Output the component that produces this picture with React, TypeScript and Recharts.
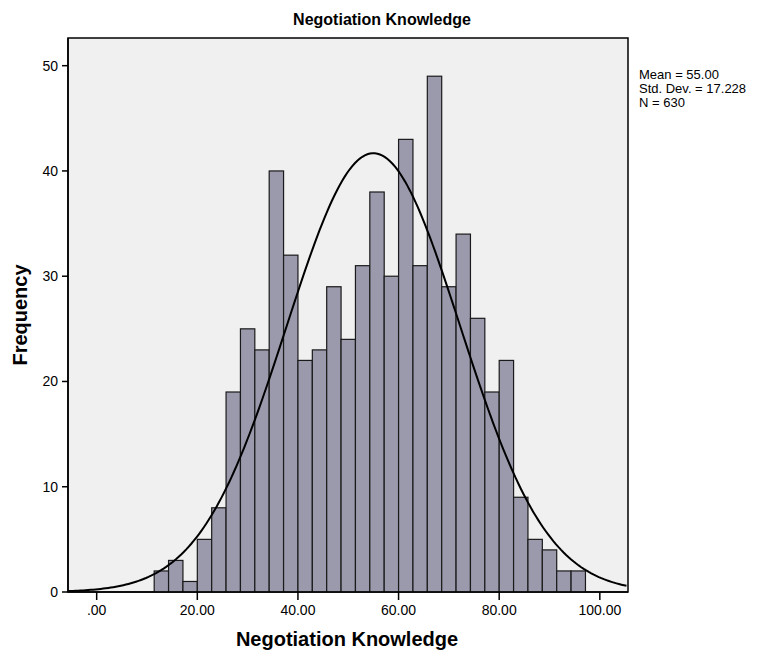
import React from "react";
import {
  ComposedChart,
  Bar,
  Line,
  XAxis,
  YAxis,
  CartesianGrid,
  ReferenceArea,
} from "recharts";

// ---- data ----
const binStart = 11.43; // lower edge of first bar
const binWidth = 100 / 35; // width of each bar in score units
const counts = [
  2, 3, 1, 5, 8, 19, 25, 23, 40, 32, 22, 23, 29, 24, 31, 38, 30, 43, 31, 49,
  29, 34, 26, 19, 22, 9, 5, 4, 2, 2,
];
const xTicks = [0, 20, 40, 60, 80, 100];
const yTicks = [0, 10, 20, 30, 40, 50];
const stats = { mean: 55.0, sd: 17.228, n: 630 };
const legendLines = ["Mean = 55.00", "Std. Dev. = 17.228", "N = 630"];
const titleText = "Negotiation Knowledge";
const xLabel = "Negotiation Knowledge";
const yLabel = "Frequency";

const X_MIN = -5.7;
const X_MAX = 105.6;
const Y_MAX = 52.63;

const barData = counts.map((c, i) => ({
  x: binStart + binWidth * (i + 0.5),
  count: c,
}));

// fitted normal curve, from the reported Mean / Std. Dev. / N
const curveData: { x: number; y: number }[] = [];
for (let x = X_MIN; x <= X_MAX + 1e-9; x += 0.5) {
  const z = (x - stats.mean) / stats.sd;
  curveData.push({
    x,
    y:
      ((stats.n * binWidth) / (stats.sd * Math.sqrt(2 * Math.PI))) *
      Math.exp(-0.5 * z * z),
  });
}

const W = 755;
const H = 649;
const margin = { top: 30, right: 135, bottom: 35, left: 0 };
const Y_AXIS_W = 60;
const plotW = W - margin.left - margin.right - Y_AXIS_W;
const barPx = (binWidth * plotW) / (X_MAX - X_MIN);

const FONT = "'Liberation Sans', Arial, Helvetica, sans-serif";

const fmtX = (v: number) => (v === 0 ? ".00" : v.toFixed(2));

const HistBar = (props: any) => {
  const { x, y, width, height } = props;
  if (height == null || height <= 0) return null;
  const cx = x + width / 2;
  return (
    <rect
      x={cx - barPx / 2}
      y={y}
      width={barPx}
      height={height}
      fill="#9b9aad"
      stroke="#1a1a1a"
      strokeWidth={1.2}
    />
  );
};

export default function App() {
  return (
    <div
      style={{
        position: "relative",
        width: W,
        height: H,
        fontFamily: FONT,
        background: "#fff",
      }}
    >
      <ComposedChart width={W} height={H} data={barData} margin={margin}>
        <CartesianGrid
          horizontal={false}
          vertical={false}
          fill="#f0f0f0"
          stroke="none"
        />
        <XAxis
          dataKey="x"
          type="number"
          domain={[X_MIN, X_MAX]}
          allowDataOverflow
          ticks={xTicks}
          tickFormatter={fmtX}
          interval={0}
          height={30}
          tickSize={8}
          tickMargin={5}
          axisLine={{ stroke: "#000", strokeWidth: 1.5 }}
          tickLine={{ stroke: "#000", strokeWidth: 1.5 }}
          tick={{ fill: "#000", fontSize: 14, fontFamily: FONT }}
        />
        <YAxis
          type="number"
          domain={[0, Y_MAX]}
          allowDataOverflow
          ticks={yTicks}
          interval={0}
          width={Y_AXIS_W}
          tickSize={6}
          tickMargin={4}
          axisLine={{ stroke: "#000", strokeWidth: 1.5 }}
          tickLine={{ stroke: "#000", strokeWidth: 1.5 }}
          tick={{ fill: "#000", fontSize: 14, fontFamily: FONT }}
        />
        <Bar
          dataKey="count"
          shape={HistBar}
          isAnimationActive={false}
        />
        <Line
          data={curveData}
          dataKey="y"
          type="linear"
          stroke="#000"
          strokeWidth={2}
          dot={false}
          activeDot={false}
          isAnimationActive={false}
        />
        <ReferenceArea
          x1={X_MIN}
          x2={X_MAX}
          y1={0}
          y2={Y_MAX}
          fill="none"
          stroke="#000"
          strokeWidth={1.5}
          ifOverflow="visible"
        />
      </ComposedChart>

      <div
        style={{
          position: "absolute",
          left: 374,
          top: 4,
          transform: "translateX(-50%)",
          whiteSpace: "nowrap",
          fontSize: 16,
          lineHeight: "16px",
          fontWeight: "bold",
          color: "#000",
        }}
      >
        {titleText}
      </div>

      <div
        style={{
          position: "absolute",
          left: 339,
          top: 621,
          transform: "translateX(-50%)",
          whiteSpace: "nowrap",
          fontSize: 20,
          lineHeight: "20px",
          fontWeight: "bold",
          color: "#000",
        }}
      >
        {xLabel}
      </div>

      <div
        style={{
          position: "absolute",
          left: 12,
          top: 307,
          transform: "translate(-50%, -50%) rotate(-90deg)",
          whiteSpace: "nowrap",
          fontSize: 20,
          lineHeight: "20px",
          fontWeight: "bold",
          color: "#000",
        }}
      >
        {yLabel}
      </div>

      <div
        style={{
          position: "absolute",
          left: 631,
          top: 60,
          fontSize: 13,
          lineHeight: "14px",
          color: "#000",
          whiteSpace: "nowrap",
        }}
      >
        {legendLines.map((t) => (
          <div key={t}>{t}</div>
        ))}
      </div>
    </div>
  );
}
